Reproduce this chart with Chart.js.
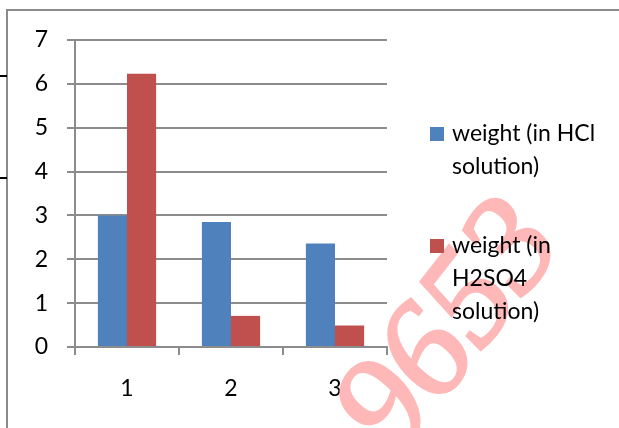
<!DOCTYPE html>
<html>
<head>
<meta charset="utf-8">
<script src="https://cdn.jsdelivr.net/npm/chart.js@4"></script>
<style>
  html, body { margin: 0; padding: 0; background: #fff; }
  #wrap { width: 619px; height: 428px; }
</style>
</head>
<body>
<div id="wrap"><canvas id="resultsChart" width="619" height="428"></canvas></div>
<script>
// Chart data
const categories = ["1", "2", "3"];
const hclWeights = [3.0, 2.85, 2.36];
const h2so4Weights = [6.23, 0.71, 0.49];
const seriesNames = ["weight (in HCl solution)", "weight (in H2SO4 solution)"];
const legendLines = [["weight (in HCl", "solution)"], ["weight (in", "H2SO4", "solution)"]];
const yTickValues = [0, 1, 2, 3, 4, 5, 6, 7];
const watermarkText = "9653";

const FONT = "Lato, 'Liberation Sans', sans-serif";
const FONT_SIZE = 23;
const GRID = "#8c8c8c";

// frame, legend and watermark drawn by hand
const extras = {
  id: "extras",
  beforeDraw(chart) {
    const ctx = chart.ctx;
    ctx.save();
    ctx.fillStyle = "#fff";
    ctx.fillRect(0, 0, chart.width, chart.height);
    ctx.strokeStyle = "#8a8a8a";
    ctx.lineWidth = 2;
    ctx.beginPath();
    ctx.moveTo(7, 428);
    ctx.lineTo(7, 10);
    ctx.lineTo(619, 10);
    ctx.stroke();
    ctx.strokeStyle = "#000";
    ctx.beginPath();
    ctx.moveTo(0, 76);
    ctx.lineTo(7, 76);
    ctx.moveTo(0, 178);
    ctx.lineTo(7, 178);
    ctx.stroke();
    ctx.restore();
  },
  afterDraw(chart) {
    const ctx = chart.ctx;
    // watermark
    ctx.save();
    ctx.translate(452, 330);
    ctx.rotate(-52 * Math.PI / 180);
    ctx.font = "italic 138px 'Liberation Serif', serif";
    ctx.fillStyle = "#ffb8b8";
    ctx.strokeStyle = "#ffb8b8";
    ctx.lineWidth = 3;
    ctx.textAlign = "center";
    ctx.textBaseline = "middle";
    ctx.fillText(watermarkText, 0, 0);
    ctx.strokeText(watermarkText, 0, 0);
    ctx.restore();

    // legend
    ctx.save();
    ctx.font = FONT_SIZE + "px " + FONT;
    ctx.textBaseline = "middle";
    ctx.textAlign = "left";
    const starts = [134, 246];
    chart.data.datasets.forEach(function (ds, i) {
      const y0 = starts[i];
      ctx.fillStyle = ds.backgroundColor;
      ctx.fillRect(430, y0 - 7, 14, 14);
      ctx.fillStyle = "#000";
      legendLines[i].forEach(function (line, j) {
        ctx.fillText(line, 452, y0 + j * 33);
      });
    });
    ctx.restore();
  }
};

new Chart(document.getElementById("resultsChart"), {
  type: "bar",
  data: {
    labels: categories,
    datasets: [
      {
        label: seriesNames[0],
        data: hclWeights,
        backgroundColor: "#4f81bd",
        categoryPercentage: 0.56,
        barPercentage: 1.0
      },
      {
        label: seriesNames[1],
        data: h2so4Weights,
        backgroundColor: "#c0504d",
        categoryPercentage: 0.56,
        barPercentage: 1.0
      }
    ]
  },
  options: {
    responsive: false,
    animation: false,
    devicePixelRatio: 1,
    layout: { padding: { top: 40, right: 232, left: 0, bottom: 0 } },
    plugins: {
      legend: { display: false },
      tooltip: { enabled: false }
    },
    scales: {
      x: {
        afterFit: function (scale) { scale.height = 81; },
        grid: { offset: true, drawOnChartArea: false, tickLength: 8, color: GRID, lineWidth: 2 },
        border: { color: GRID, width: 2 },
        ticks: { color: "#000", font: { family: FONT, size: FONT_SIZE }, padding: 20 }
      },
      y: {
        min: 0,
        max: 7,
        afterFit: function (scale) { scale.width = 75; },
        afterBuildTicks: function (scale) {
          scale.ticks = yTickValues.map((v) => ({ value: v }));
        },
        grid: { tickLength: 8, color: GRID, lineWidth: 2 },
        border: { color: GRID, width: 2 },
        ticks: { color: "#000", font: { family: FONT, size: FONT_SIZE }, padding: 19 }
      }
    }
  },
  plugins: [extras]
});
</script>
</body>
</html>
